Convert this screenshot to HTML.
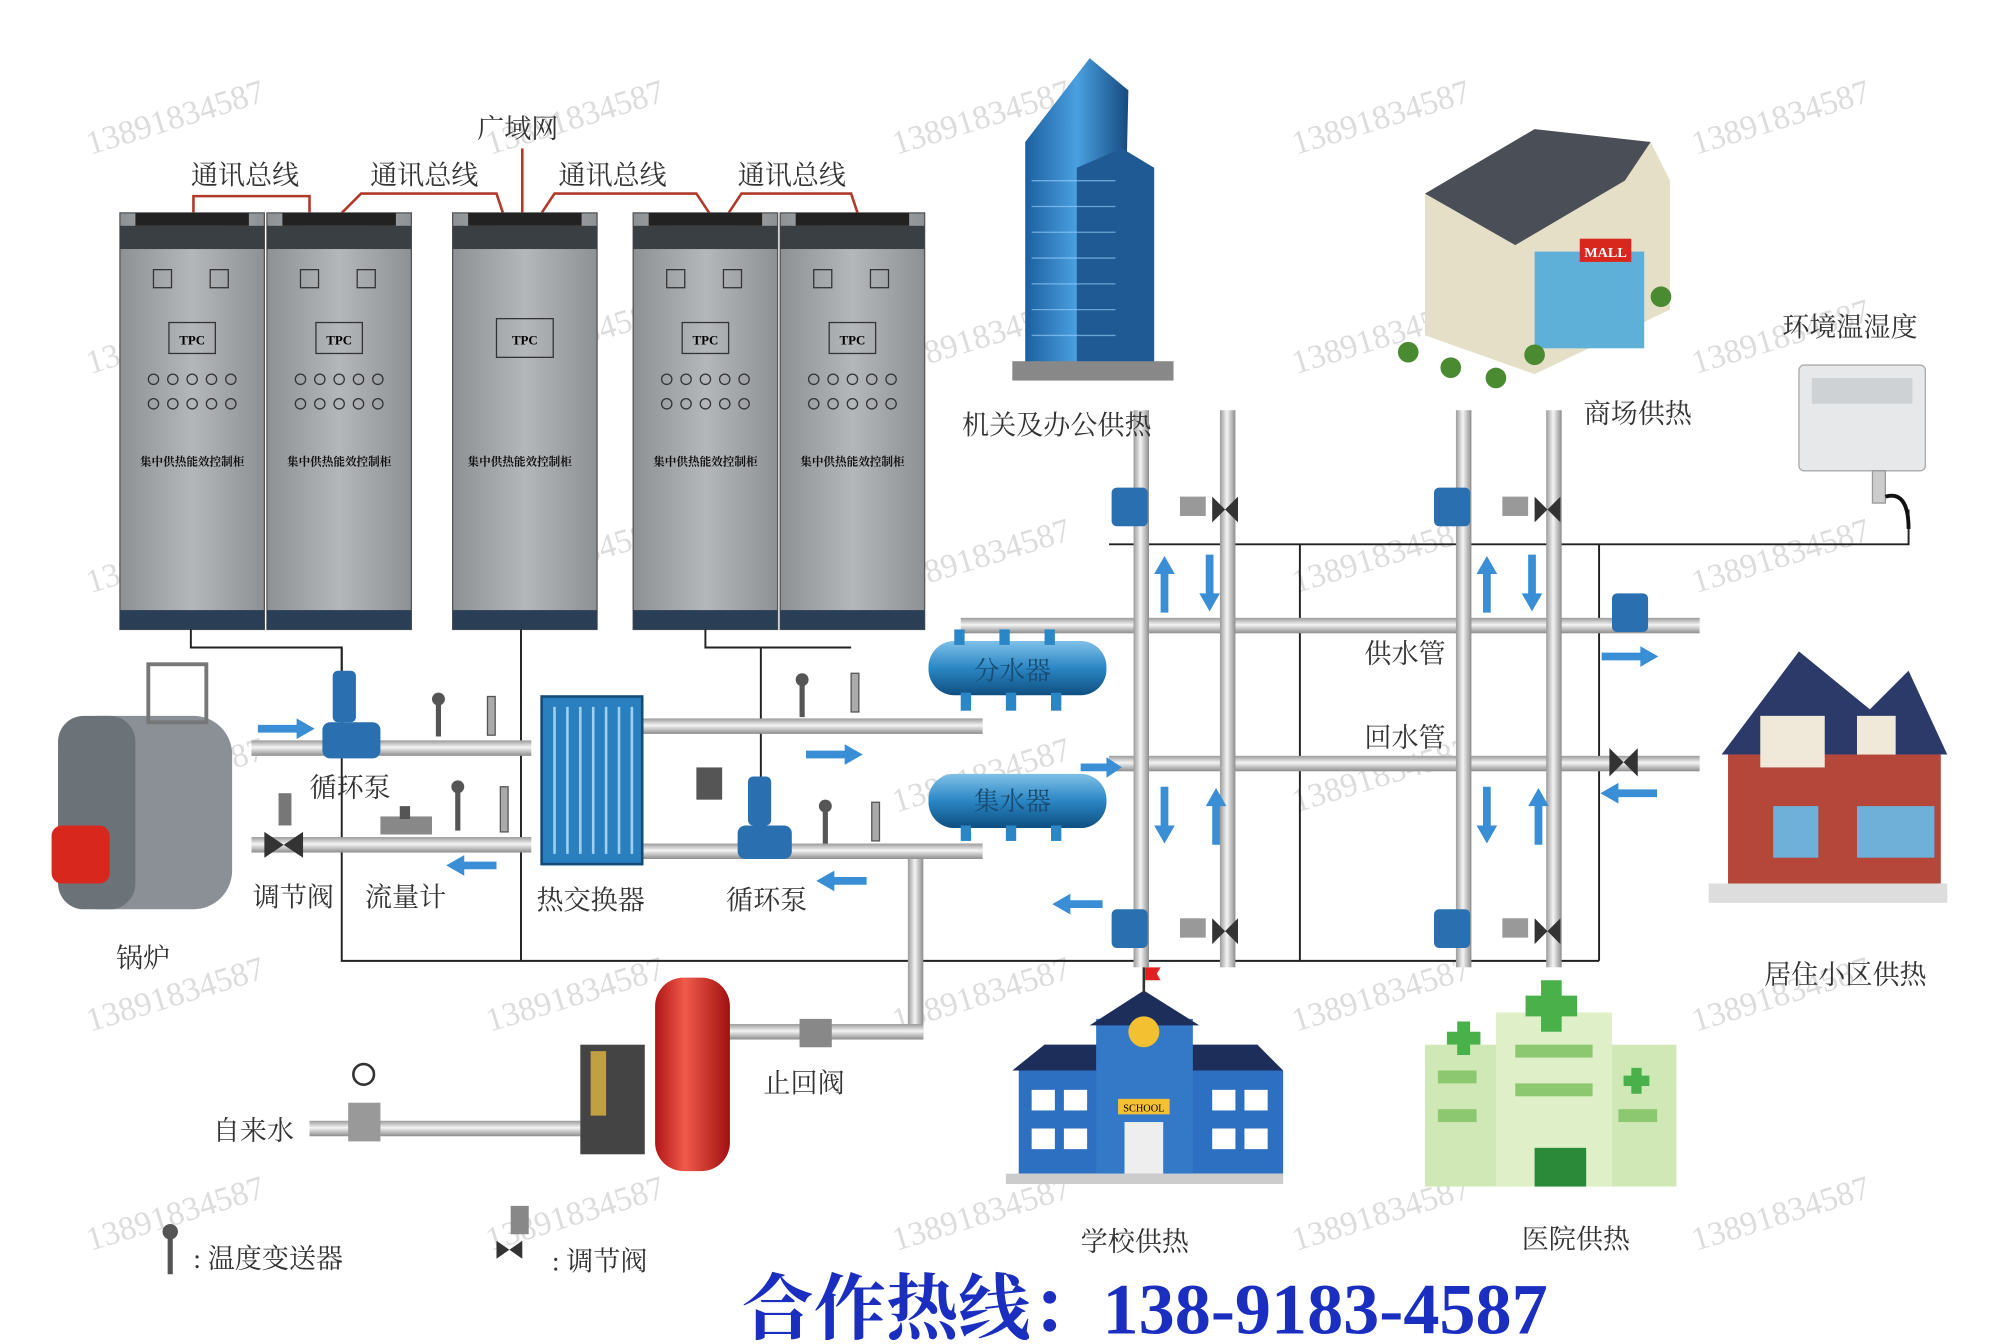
<!DOCTYPE html>
<html><head><meta charset="utf-8"><style>
html,body{margin:0;padding:0;background:#fff;}
svg{display:block}
text{font-family:"Liberation Serif","Noto Serif CJK SC","Noto Sans CJK SC",serif;}
</style></head><body>
<svg width="2004" height="1344" viewBox="0 0 1554 1042" xmlns="http://www.w3.org/2000/svg">
<defs>
<linearGradient id="pipeH" x1="0" y1="0" x2="0" y2="1"><stop offset="0" stop-color="#9a9a9a"/><stop offset="0.45" stop-color="#f4f4f4"/><stop offset="1" stop-color="#8c8c8c"/></linearGradient>
<linearGradient id="pipeV" x1="0" y1="0" x2="1" y2="0"><stop offset="0" stop-color="#9a9a9a"/><stop offset="0.45" stop-color="#f4f4f4"/><stop offset="1" stop-color="#8c8c8c"/></linearGradient>
<linearGradient id="cab" x1="0" y1="0" x2="1" y2="0"><stop offset="0" stop-color="#8e9194"/><stop offset="0.5" stop-color="#b4b7ba"/><stop offset="1" stop-color="#8e9194"/></linearGradient>
<linearGradient id="tank" x1="0" y1="0" x2="0" y2="1"><stop offset="0" stop-color="#7fc0e8"/><stop offset="0.5" stop-color="#2a86c4"/><stop offset="1" stop-color="#0f4f80"/></linearGradient>
<linearGradient id="red" x1="0" y1="0" x2="1" y2="0"><stop offset="0" stop-color="#b01515"/><stop offset="0.4" stop-color="#f05a4a"/><stop offset="1" stop-color="#a01010"/></linearGradient>
<linearGradient id="tower" x1="0" y1="0" x2="1" y2="0"><stop offset="0" stop-color="#1c5fa0"/><stop offset="0.5" stop-color="#4aa0e0"/><stop offset="1" stop-color="#164a80"/></linearGradient>
</defs>

<g fill="#dcdcdc" font-size="26" font-family="Liberation Sans, sans-serif">
<text transform="translate(70,120) rotate(-17)">13891834587</text>
<text transform="translate(380,120) rotate(-17)">13891834587</text>
<text transform="translate(695,120) rotate(-17)">13891834587</text>
<text transform="translate(1005,120) rotate(-17)">13891834587</text>
<text transform="translate(1315,120) rotate(-17)">13891834587</text>
<text transform="translate(70,290) rotate(-17)">13891834587</text>
<text transform="translate(380,290) rotate(-17)">13891834587</text>
<text transform="translate(695,290) rotate(-17)">13891834587</text>
<text transform="translate(1005,290) rotate(-17)">13891834587</text>
<text transform="translate(1315,290) rotate(-17)">13891834587</text>
<text transform="translate(70,460) rotate(-17)">13891834587</text>
<text transform="translate(380,460) rotate(-17)">13891834587</text>
<text transform="translate(695,460) rotate(-17)">13891834587</text>
<text transform="translate(1005,460) rotate(-17)">13891834587</text>
<text transform="translate(1315,460) rotate(-17)">13891834587</text>
<text transform="translate(70,630) rotate(-17)">13891834587</text>
<text transform="translate(695,630) rotate(-17)">13891834587</text>
<text transform="translate(1005,630) rotate(-17)">13891834587</text>
<text transform="translate(70,800) rotate(-17)">13891834587</text>
<text transform="translate(380,800) rotate(-17)">13891834587</text>
<text transform="translate(695,800) rotate(-17)">13891834587</text>
<text transform="translate(1005,800) rotate(-17)">13891834587</text>
<text transform="translate(1315,800) rotate(-17)">13891834587</text>
<text transform="translate(70,970) rotate(-17)">13891834587</text>
<text transform="translate(380,970) rotate(-17)">13891834587</text>
<text transform="translate(695,970) rotate(-17)">13891834587</text>
<text transform="translate(1005,970) rotate(-17)">13891834587</text>
<text transform="translate(1315,970) rotate(-17)">13891834587</text>
</g>

<g stroke="#b03a2a" stroke-width="2" fill="none">
<path d="M150,165 L150,152 L240,152 L240,165"/>
<path d="M265,165 L280,150 L385,150 L390,165"/>
<path d="M420,165 L430,150 L540,150 L550,165"/>
<path d="M565,165 L575,150 L660,150 L665,165"/>
<path d="M405,115 L405,165"/>
</g>
<g font-size="21" fill="#333">
<text x="370" y="107">广域网</text>
<text x="148" y="143">通讯总线</text>
<text x="287" y="143">通讯总线</text>
<text x="433" y="143">通讯总线</text>
<text x="572" y="143">通讯总线</text>
</g>

<g id="cabs">
<g transform="translate(93,165)">
<rect x="0" y="0" width="112" height="323" fill="url(#cab)" stroke="#555"/>
<rect x="12" y="0" width="88" height="10" fill="#222"/><rect x="0" y="10" width="112" height="18" fill="#3a3f44"/>
<rect x="0" y="308" width="112" height="15" fill="#2a3f55"/>
<rect x="26" y="44" width="14" height="14" fill="none" stroke="#333"/><rect x="70" y="44" width="14" height="14" fill="none" stroke="#333"/>
<rect x="38" y="85" width="36" height="24" fill="none" stroke="#333"/><text x="56" y="102" font-size="10" text-anchor="middle" font-weight="bold">TPC</text>
<g fill="none" stroke="#333"><circle cx="26" cy="129" r="4"/><circle cx="41" cy="129" r="4"/><circle cx="56" cy="129" r="4"/><circle cx="71" cy="129" r="4"/><circle cx="86" cy="129" r="4"/><circle cx="26" cy="148" r="4"/><circle cx="41" cy="148" r="4"/><circle cx="56" cy="148" r="4"/><circle cx="71" cy="148" r="4"/><circle cx="86" cy="148" r="4"/></g>
<text x="56" y="196" font-size="9" text-anchor="middle" fill="#111" font-weight="bold">集中供热能效控制柜</text>
</g>
</g>
<use href="#cabs" x="114"/>
<use href="#cabs" x="398"/>
<use href="#cabs" x="512"/>
<g transform="translate(351,165)">
<rect x="0" y="0" width="112" height="323" fill="url(#cab)" stroke="#555"/>
<rect x="12" y="0" width="88" height="10" fill="#222"/><rect x="0" y="10" width="112" height="18" fill="#3a3f44"/>
<rect x="0" y="308" width="112" height="15" fill="#2a3f55"/>
<rect x="34" y="82" width="44" height="30" fill="none" stroke="#333"/><text x="56" y="102" font-size="10" text-anchor="middle" font-weight="bold">TPC</text>
<text x="52" y="196" font-size="9" text-anchor="middle" fill="#111" font-weight="bold">集中供热能效控制柜</text>
</g>

<g stroke="#222" stroke-width="1.5" fill="none">
<path d="M148,488 V502 H265 V745 H1240"/>
<path d="M265,502 V520"/>
<path d="M404,488 V745"/>
<path d="M547,488 V502 H660"/>
<path d="M590,502 V610"/>
<path d="M860,422 H1480 V395"/>
<path d="M1008,422 V745"/>
<path d="M1240,422 V745"/>
</g>

<g>
<rect x="745" y="479" width="573" height="12" fill="url(#pipeH)"/>
<rect x="860" y="586" width="458" height="12" fill="url(#pipeH)"/>
<rect x="879" y="318" width="12" height="432" fill="url(#pipeV)"/>
<rect x="946" y="318" width="12" height="432" fill="url(#pipeV)"/>
<rect x="1129" y="318" width="12" height="432" fill="url(#pipeV)"/>
<rect x="1199" y="318" width="12" height="432" fill="url(#pipeV)"/>
<rect x="195" y="574" width="217" height="12" fill="url(#pipeH)"/>
<rect x="195" y="649" width="217" height="12" fill="url(#pipeH)"/>
<rect x="497" y="557" width="265" height="12" fill="url(#pipeH)"/>
<rect x="497" y="654" width="265" height="12" fill="url(#pipeH)"/>
<rect x="704" y="666" width="12" height="140" fill="url(#pipeV)"/>
<rect x="565" y="794" width="151" height="12" fill="url(#pipeH)"/>
<rect x="240" y="869" width="210" height="12" fill="url(#pipeH)"/>
</g>

<g fill="#3a8ed6">
<path d="M200,562 h30 v-5 l14,8 l-14,8 v-5 h-30z"/>
<path d="M385,668 h-25 v-5 l-14,8 l14,8 v-5 h25z"/>
<path d="M625,582 h30 v-5 l14,8 l-14,8 v-5 h-30z"/>
<path d="M672,680 h-25 v-5 l-14,8 l14,8 v-5 h25z"/>
<path d="M1242,506 h30 v-5 l14,8 l-14,8 v-5 h-30z"/>
<path d="M1285,612 h-30 v-5 l-14,8 l14,8 v-5 h30z"/>
<path d="M855,698 h-25 v-5 l-14,8 l14,8 v-5 h25z"/>
<path d="M838,592 h20 v-5 l12,8 l-12,8 v-5 h-20z"/>
<path d="M900,475 v-30 h-5 l8,-14 l8,14 h-5 v30z"/>
<path d="M935,430 v30 h-5 l8,14 l8,-14 h-5 v-30z"/>
<path d="M1150,475 v-30 h-5 l8,-14 l8,14 h-5 v30z"/>
<path d="M1185,430 v30 h-5 l8,14 l8,-14 h-5 v-30z"/>
<path d="M900,610 v30 h-5 l8,14 l8,-14 h-5 v-30z"/>
<path d="M940,655 v-30 h-5 l8,-14 l8,14 h-5 v30z"/>
<path d="M1150,610 v30 h-5 l8,14 l8,-14 h-5 v-30z"/>
<path d="M1190,655 v-30 h-5 l8,-14 l8,14 h-5 v30z"/>
</g>

<g>
<rect x="720" y="497" width="138" height="42" rx="20" fill="url(#tank)"/>
<rect x="740" y="488" width="8" height="12" fill="#2a86c4"/><rect x="775" y="488" width="8" height="12" fill="#2a86c4"/><rect x="810" y="488" width="8" height="12" fill="#2a86c4"/>
<rect x="745" y="537" width="8" height="14" fill="#2a86c4"/><rect x="780" y="537" width="8" height="14" fill="#2a86c4"/><rect x="815" y="537" width="8" height="14" fill="#2a86c4"/>
<text x="785" y="527" font-size="20" fill="#1a4a70" text-anchor="middle">分水器</text>
<rect x="720" y="600" width="138" height="42" rx="20" fill="url(#tank)"/>
<rect x="745" y="640" width="8" height="12" fill="#2a86c4"/><rect x="780" y="640" width="8" height="12" fill="#2a86c4"/><rect x="815" y="640" width="8" height="12" fill="#2a86c4"/>
<text x="785" y="628" font-size="20" fill="#1a4a70" text-anchor="middle">集水器</text>
</g>

<rect x="420" y="540" width="78" height="130" fill="#2a7fbf" stroke="#134b78" stroke-width="2"/>
<g stroke="#9fd0f0" stroke-width="2"><path d="M430,548 v114 M440,548 v114 M450,548 v114 M460,548 v114 M470,548 v114 M480,548 v114 M490,548 v114"/></g>

<g fill="#2a6fb0"><rect x="258" y="520" width="18" height="40" rx="4"/><rect x="250" y="560" width="45" height="28" rx="6"/>
<rect x="580" y="602" width="18" height="38" rx="4"/><rect x="572" y="640" width="42" height="26" rx="6"/></g>

<g fill="#555">
<rect x="295" y="633" width="40" height="14" fill="#888"/><rect x="310" y="625" width="8" height="10"/>
<path d="M205,645 l30,20 v-20 l-30,20z" fill="#333"/><rect x="216" y="615" width="10" height="25" fill="#777"/>
<rect x="540" y="595" width="20" height="25" fill="#555"/>
<circle cx="340" cy="542" r="5"/><rect x="338" y="546" width="4" height="25"/>
<circle cx="355" cy="610" r="5"/><rect x="353" y="614" width="4" height="30"/>
<rect x="378" y="540" width="6" height="30" fill="#aaa" stroke="#555"/><rect x="388" y="610" width="6" height="35" fill="#aaa" stroke="#555"/>
<circle cx="622" cy="527" r="5"/><rect x="620" y="531" width="4" height="25"/>
<circle cx="640" cy="625" r="5"/><rect x="638" y="629" width="4" height="25"/>
<rect x="660" y="522" width="6" height="30" fill="#aaa" stroke="#555"/><rect x="676" y="622" width="6" height="30" fill="#aaa" stroke="#555"/>
<rect x="620" y="790" width="25" height="22" fill="#888"/>
<rect x="270" y="855" width="25" height="30" fill="#999"/><circle cx="282" cy="833" r="8" fill="none" stroke="#333" stroke-width="2"/>
</g>
<g fill="#2a6fb0">
<rect x="862" y="378" width="28" height="30" rx="4"/><rect x="1112" y="378" width="28" height="30" rx="4"/>
<rect x="862" y="705" width="28" height="30" rx="4"/><rect x="1112" y="705" width="28" height="30" rx="4"/>
<rect x="1250" y="460" width="28" height="30" rx="4"/>
</g>
<g fill="#333">
<path d="M940,385 l20,20 v-20 l-20,20z"/><path d="M1190,385 l20,20 v-20 l-20,20z"/>
<path d="M940,712 l20,20 v-20 l-20,20z"/><path d="M1190,712 l20,20 v-20 l-20,20z"/>
<path d="M1248,580 l22,22 v-22 l-22,22z"/>
<rect x="915" y="385" width="20" height="15" fill="#999"/><rect x="1165" y="385" width="20" height="15" fill="#999"/>
<rect x="915" y="712" width="20" height="15" fill="#999"/><rect x="1165" y="712" width="20" height="15" fill="#999"/>
</g>

<rect x="45" y="555" width="135" height="150" rx="30" fill="#8a9096"/>
<rect x="45" y="555" width="60" height="150" rx="20" fill="#6b7278"/>
<rect x="115" y="515" width="45" height="45" fill="none" stroke="#777" stroke-width="3"/>
<rect x="40" y="640" width="45" height="45" rx="8" fill="#d8281e"/>

<path d="M795,110 L845,45 L875,70 L870,290 L795,290z" fill="url(#tower)"/>
<path d="M835,130 L870,115 L895,130 L895,285 L835,285z" fill="#1f5a94"/>
<rect x="785" y="280" width="125" height="15" fill="#888"/>
<g stroke="#9fd4ff" stroke-width="1" opacity="0.6"><path d="M800,140 h65 M800,160 h65 M800,180 h65 M800,200 h65 M800,220 h65 M800,240 h65 M800,260 h65"/></g>

<path d="M1105,150 L1190,100 L1280,110 L1295,140 L1295,240 L1190,290 L1105,260z" fill="#e6dfc8"/>
<path d="M1105,150 L1190,100 L1280,110 L1260,140 L1175,190z" fill="#4a4f57"/>
<rect x="1190" y="195" width="85" height="75" fill="#5fb0d8"/>
<rect x="1225" y="185" width="40" height="18" fill="#d8281e"/><text x="1245" y="199" font-size="11" fill="#fff" text-anchor="middle" font-weight="bold" font-family="Liberation Sans,sans-serif">MALL</text>
<g fill="#4a8a30"><circle cx="1125" cy="285" r="8"/><circle cx="1160" cy="293" r="8"/><circle cx="1190" cy="275" r="8"/><circle cx="1288" cy="230" r="8"/><circle cx="1092" cy="273" r="8"/></g>

<rect x="1395" y="283" width="98" height="82" rx="4" fill="#e6e8ea" stroke="#aaa"/>
<rect x="1405" y="293" width="78" height="20" fill="#cfd2d5"/>
<rect x="1452" y="365" width="10" height="25" fill="#ccc" stroke="#999"/>
<path d="M1462,385 Q1480,380 1480,410" stroke="#111" stroke-width="3" fill="none"/>

<path d="M1335,585 L1395,505 L1450,550 L1480,520 L1510,585 z" fill="#2c3a6a"/>
<rect x="1340" y="585" width="165" height="110" fill="#b5463a"/>
<rect x="1365" y="555" width="50" height="40" fill="#f0e8d8"/>
<rect x="1440" y="555" width="30" height="30" fill="#f0e8d8"/>
<rect x="1375" y="625" width="35" height="40" fill="#6fb0d8"/><rect x="1440" y="625" width="60" height="40" fill="#6fb0d8"/>
<rect x="1325" y="685" width="185" height="15" fill="#ddd"/>

<rect x="790" y="830" width="205" height="80" fill="#2d6fc0"/>
<path d="M785,830 L810,810 L975,810 L995,830z" fill="#1e2e5a"/>
<rect x="850" y="790" width="75" height="120" fill="#3478c8"/>
<path d="M845,795 L887,768 L930,795z" fill="#1e2e5a"/>
<circle cx="887" cy="800" r="12" fill="#f2c030"/>
<rect x="867" y="852" width="40" height="12" fill="#f2c030"/><text x="887" y="862" font-size="8" text-anchor="middle" font-family="Liberation Sans,sans-serif">SCHOOL</text>
<rect x="872" y="870" width="30" height="40" fill="#eee"/>
<rect x="886" y="750" width="2" height="20" fill="#333"/><path d="M888,750 h12 l-3,5 l3,5 h-12z" fill="#e02020"/>
<g fill="#fff"><rect x="800" y="845" width="18" height="16"/><rect x="825" y="845" width="18" height="16"/><rect x="940" y="845" width="18" height="16"/><rect x="965" y="845" width="18" height="16"/><rect x="800" y="875" width="18" height="16"/><rect x="825" y="875" width="18" height="16"/><rect x="940" y="875" width="18" height="16"/><rect x="965" y="875" width="18" height="16"/></g>
<rect x="780" y="910" width="215" height="8" fill="#ccc"/>

<rect x="1105" y="810" width="195" height="110" fill="#cfe8b5"/>
<rect x="1160" y="785" width="90" height="135" fill="#dff0c8"/>
<path d="M1195,760 h16 v12 h12 v16 h-12 v12 h-16 v-12 h-12 v-16 h12z" fill="#4ab04a"/>
<path d="M1130,792 h10 v8 h8 v10 h-8 v8 h-10 v-8 h-8 v-10 h8z" fill="#4ab04a"/>
<path d="M1265,828 h8 v6 h6 v8 h-6 v6 h-8 v-6 h-6 v-8 h6z" fill="#4ab04a"/>
<g fill="#8cc870"><rect x="1115" y="830" width="30" height="10"/><rect x="1115" y="860" width="30" height="10"/><rect x="1175" y="810" width="60" height="10"/><rect x="1175" y="840" width="60" height="10"/><rect x="1255" y="860" width="30" height="10"/></g>
<rect x="1190" y="890" width="40" height="30" fill="#2a8a3a"/>

<rect x="508" y="758" width="58" height="150" rx="22" fill="url(#red)"/>
<rect x="450" y="810" width="50" height="85" fill="#444"/>
<rect x="458" y="815" width="12" height="50" fill="#c0a040"/>

<g font-size="21" fill="#333">
<text x="240" y="618">循环泵</text>
<text x="196" y="703">调节阀</text>
<text x="283" y="703">流量计</text>
<text x="416" y="705">热交换器</text>
<text x="563" y="705">循环泵</text>
<text x="90" y="750">锅炉</text>
<text x="746" y="337">机关及办公供热</text>
<text x="1228" y="328">商场供热</text>
<text x="1382" y="261">环境温湿度</text>
<text x="1058" y="514">供水管</text>
<text x="1058" y="579">回水管</text>
<text x="1368" y="763">居住小区供热</text>
<text x="592" y="847">止回阀</text>
<text x="165" y="884">自来水</text>
<text x="838" y="970">学校供热</text>
<text x="1180" y="968">医院供热</text>
<text x="150" y="983">:  温度变送器</text>
<text x="428" y="985">:  调节阀</text>
</g>
<g fill="#555"><circle cx="132" cy="955" r="6"/><rect x="130" y="960" width="4" height="28"/>
<rect x="396" y="935" width="14" height="22" fill="#888"/><path d="M385,962 l20,14 v-14 l-20,14z" fill="#333"/></g>

<text x="575" y="1034" font-size="56" font-weight="bold" fill="#1a2fc0">合作热线：138-9183-4587</text>
</svg>
</body></html>
